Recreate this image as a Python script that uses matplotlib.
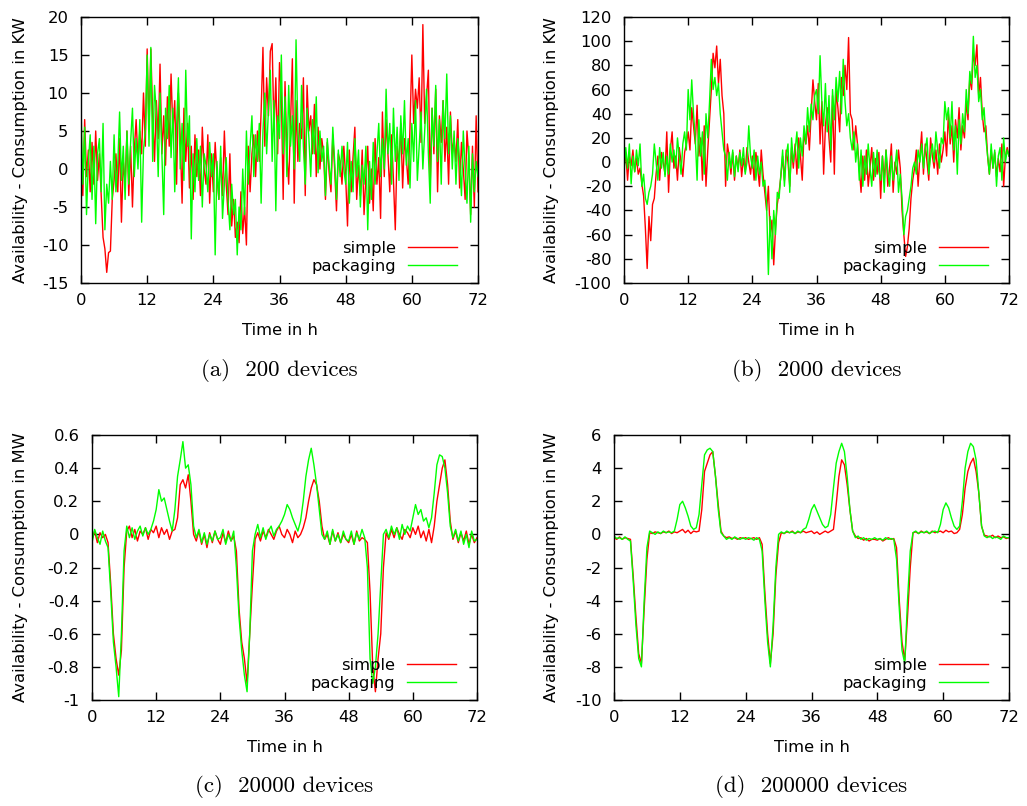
import numpy as np
import matplotlib
matplotlib.use("Agg")
import matplotlib.pyplot as plt

plt.rcParams["axes.unicode_minus"] = False

# values, one sample every 20 min (top) / 30 min (bottom)
a_simple = [
    1.5, -3.5, 6.5, -1.0, 2.5, -3.0, 3.5, -2.0, 5.0, -1.5, 2.0, -3.5,
    -9.0, -10.5, -13.6, -11.0, -10.8, -4.0, -1.5, 2.0, -3.0, 4.0, -7.0, 1.0,
    -2.0, 5.0, -3.5, 3.0, -5.0, 2.5, 6.5, 1.0, 5.0, 2.0, 10.0, 3.0,
    15.8, 5.0, 15.8, 7.0, 1.0, 9.0, 4.0, 13.8, 2.0, 7.0, 0.5, 9.5,
    3.0, 12.5, 5.0, 9.0, -2.0, 10.0, 4.0, -4.5, 8.0, 1.0, 6.0, -2.5,
    3.0, -4.0, 4.5, -1.0, 2.5, -3.5, 5.5, 0.0, -2.0, 4.5, -4.5, 2.0,
    -3.0, 3.5, -1.0, -4.0, 1.5, -3.5, 5.0, -2.0, -6.0, 2.0, -7.5, -4.0,
    -9.0, -7.0, -9.7, -3.0, -8.5, -5.0, -10.0, 3.0, -3.0, 2.0, 4.5, -1.0,
    5.0, 1.0, 7.5, 16.0, 3.0, 12.0, 7.0, 15.5, 16.5, 5.0, 12.0, 2.0,
    14.0, 10.0, -4.0, 11.5, 2.0, -2.0, 6.0, 14.5, -4.5, 9.0, 1.0, 6.0,
    4.0, 12.0, -3.5, 11.0, 5.0, 7.0, 2.0, 8.5, -1.0, 5.5, 0.0, 4.0,
    2.0, -4.0, 3.5, -0.5, -3.0, 4.5, 0.0, -5.5, 2.0, 1.0, -2.0, 3.0,
    -1.0, -7.5, 2.5, -3.0, 1.5, 5.5, -4.0, 0.5, -3.5, 2.5, -6.0, -1.0,
    3.0, -4.5, 0.0, -5.5, 4.0, -2.0, 1.5, -6.5, 7.5, -1.0, 6.5, 2.0,
    -3.0, 4.5, -1.5, -8.0, 3.0, 0.5, 6.0, -2.5, 4.0, 1.5, -2.0, 5.5,
    15.0, 6.0, 10.5, 8.0, 12.0, 3.5, 19.0, 6.0, 9.5, 13.0, -2.0, 8.0,
    2.0, 10.5, -3.0, 7.0, 3.5, 9.0, 1.0, 5.5, -2.0, 7.5, 2.0, 4.0,
    1.0, 6.5, -2.5, 3.5, 0.0, -4.0, 5.0, 1.5, -6.0, 3.0, -5.0, 7.0,
    -3.0,
]
a_pack = [
    8.3, -2.0, 5.5, -6.0, 1.0, 4.5, -4.0, 3.0, -7.2, 2.0, 4.0, -3.0,
    6.0, -8.0, -2.0, -4.5, 1.0, -4.0, 4.5, -3.0, 0.5, 7.5, -1.5, 3.0,
    -4.0, 5.0, -2.0, 3.5, 8.0, -1.0, 4.0, 0.0, 6.5, -7.0, 2.5, 5.0,
    15.0, 3.0, 16.0, 1.0, 11.0, 7.5, -1.0, 10.0, 2.0, -6.0, 8.0, 4.0,
    11.0, 1.5, 8.0, -3.0, 5.5, 12.0, 0.0, 6.0, -1.5, 13.0, 3.0, 7.0,
    -9.2, 2.0, -3.0, 4.0, -1.5, 3.0, -5.0, 2.0, 0.5, -3.0, 3.5, -1.0,
    2.0, -11.3, 1.0, -4.0, 3.0, -6.5, -2.0, 1.5, -4.0, -8.0, -2.0, -6.0,
    -4.0, -11.3, -5.0, -8.0, 0.0, -6.0, 5.0, -2.0, 3.0, 7.0, -1.0, 4.5,
    1.0, 6.0, -4.5, 5.0, 10.0, 2.0, 8.0, 13.0, 1.0, 9.0, -5.5, 7.0,
    4.0, 15.0, 2.0, 9.5, -1.0, 11.0, 3.0, 7.0, 0.0, 17.0, 5.0, 1.0,
    11.0, 3.0, -2.0, 8.0, 4.0, -1.0, 6.5, 2.0, 9.5, -0.5, 5.0, 1.0,
    3.0, -3.5, 4.0, 0.5, -2.0, 5.5, 1.0, -4.0, 2.5, -1.0, 3.0, 0.0,
    -2.0, 3.5, -4.5, 1.0, -3.0, 4.0, -1.0, 2.5, -5.0, 0.5, -2.0, 3.0,
    -8.0, 1.0, -4.0, 3.5, -2.0, 2.0, 6.0, -1.0, 4.0, 0.0, 10.5, 2.0,
    6.0, -2.0, 8.0, 1.0, 5.5, -1.5, 7.0, 2.0, 9.0, 0.5, 4.0, -2.5,
    6.0, 1.0, 9.0, -1.5, 3.0, 7.5, 0.0, 5.0, 10.5, 2.0, -4.5, 8.0,
    3.0, 11.0, 1.0, 6.5, -2.0, 9.0, 4.0, 12.5, 2.0, 7.0, 0.0, 5.0,
    -2.0, 4.0, 1.0, -3.5, 5.0, 0.0, -4.5, 3.0, -7.0, 2.0, -3.0, 1.0,
    -1.0,
]

b_simple = [
    -5, 8, -15, 5, -3, 10, -8, 3, -10, -5, -18, -28,
    -55, -88, -45, -65, -35, -30, -10, 5, -15, 8, 0, -10,
    25, -25, 10, 25, -5, 5, -15, 12, 0, -12, 8, 15,
    25, 10, 45, 30, 15, 47, 5, 20, -15, 30, -20, 10,
    35, 60, 90, 78, 96, 65, 85, 55, 40, -20, 15, 5,
    -10, 8, -15, 5, -5, 10, -12, 3, -8, 12, 0, -10,
    5, -15, 8, -5, -20, 10, -10, -25, -40, -20, -60, -48,
    -85, -55, -35, -25, -12, 5, -15, 10, 0, -20, 12, -5,
    15, -10, 20, 5, -15, 25, 15, 30, 10, 40, 68, 50,
    35, 65, 15, 50, -10, 30, 45, 20, 0, 55, -10, 60,
    45, 25, 70, 55, 80, 60, 103, 40, 35, 10, 30, 15,
    -5, -25, 5, -15, 10, -20, -5, 12, -15, 3, -10, 8,
    -30, 5, -15, 10, -20, -5, 15, -25, 0, -10, 10, -5,
    -40, -60, -78, -70, -55, -30, -15, -5, 10, -20, 5, 25,
    -10, 15, 0, -15, 20, 5, -5, 10, -10, 15, 0, 10,
    25, 5, 40, 15, 30, 0, 35, 20, 45, 10, 30, 20,
    50, 35, 70, 60, 90, 80, 97, 55, 70, 40, 25, 30,
    5, -10, 10, -5, 8, -12, 3, -8, 15, -20, 5, 12,
    5,
]
b_pack = [
    -10, 12, -5, 15, -18, 5, -8, 10, -3, 15, -20, -10,
    -30, -35, -25, -20, -10, 15, 0, -15, 12, -5, 8, -12,
    5, -10, 15, 0, 10, -5, 20, 5, -10, 15, 25, 10,
    60, 35, 68, 40, 20, -15, 35, 5, 25, -10, 40, 20,
    50, 85, 60, 70, 55, 65, 40, 25, 10, 5, -15, 8,
    -5, 10, -12, 5, -8, 8, -3, 12, -10, 0, 30, 5,
    -5, 10, -15, 5, -10, 0, -20, -15, -35, -93, -45, -80,
    -40, -60, -25, -30, -10, 10, -20, 5, 15, -25, 20, 0,
    10, 25, -5, 20, 5, 30, 15, 45, 25, 48, 35, 55,
    60, 40, 88, 50, 30, 65, 25, 55, 10, 60, 35, 70,
    50, 75, 40, 85, 50, 30, 40, 20, 10, 25, 0, 15,
    -15, 10, -20, 5, -10, 15, -5, -20, 8, -12, 10, -8,
    -15, 5, -25, 10, -8, -20, 5, -15, -5, 10, -25, -10,
    -30, -60, -45, -40, -30, -20, -5, 0, -10, 10, 0, 15,
    -5, 10, 20, -10, 5, 15, 0, 25, 10, -5, 20, 15,
    50, 35, 45, 20, 50, 10, 30, -10, 35, 15, 40, 25,
    60, 40, 75, 65, 104, 70, 80, 50, 60, 35, 45, 20,
    5, -10, 15, -5, 10, -20, 5, 12, -15, 20, 0, 10,
    5,
]

c_simple = [
    -0.03, 0.02, -0.05, 0.01, -0.02, 0.0, -0.05, -0.3, -0.6, -0.75, -0.85, -0.7,
    -0.2, 0.02, 0.05, -0.02, 0.03, -0.04, 0.02, 0.0, 0.04, -0.03, 0.03, 0.01,
    0.05, -0.02, 0.04, 0.0, 0.03, -0.03, 0.02, 0.03, 0.1, 0.3, 0.33, 0.28,
    0.36, 0.2, 0.0, -0.04, 0.02, -0.06, 0.0, -0.08, 0.01, -0.05, 0.02, -0.03,
    -0.06, 0.01, -0.05, 0.02, -0.04, -0.01, -0.1, -0.45, -0.65, -0.75, -0.9, -0.6,
    -0.3, -0.03, 0.01, -0.04, 0.02, -0.02, 0.03, 0.0, -0.03, 0.02, 0.05, 0.0,
    -0.02, 0.03, 0.0, -0.05, 0.02, -0.02, 0.0, 0.04, 0.1, 0.2, 0.28, 0.33,
    0.3, 0.2, 0.05, -0.03, 0.0, -0.06, 0.02, -0.04, 0.01, -0.05, 0.0, -0.03,
    -0.05, 0.0, -0.06, 0.02, -0.04, -0.02, -0.03, -0.05, -0.35, -0.8, -0.95, -0.75,
    -0.6, -0.2, 0.01, -0.03, 0.03, -0.02, 0.04, 0.0, -0.03, 0.03, 0.01, -0.02,
    0.04, 0.0, 0.05, -0.02, 0.02, -0.04, 0.03, -0.05, 0.05, 0.2, 0.3, 0.4,
    0.45, 0.3, 0.08, -0.03, 0.02, -0.05, 0.01, -0.04, 0.02, -0.06, 0.0, -0.05,
    -0.02,
]
c_pack = [
    -0.05, 0.03, -0.02, -0.06, 0.02, -0.04, -0.08, -0.35, -0.65, -0.8, -0.98, -0.6,
    -0.1, 0.05, -0.02, 0.04, -0.03, 0.02, 0.05, -0.01, 0.04, 0.0, 0.03, 0.08,
    0.15, 0.27, 0.2, 0.22, 0.15, 0.08, 0.02, 0.15, 0.35, 0.45, 0.56, 0.4,
    0.42, 0.3, 0.05, -0.02, 0.03, -0.05, 0.01, -0.06, 0.0, -0.04, 0.02, -0.03,
    -0.02, 0.03, -0.06, 0.0, -0.04, 0.02, -0.2, -0.5, -0.7, -0.85, -0.95, -0.6,
    -0.1, 0.0, 0.06, -0.02, 0.04, -0.03, 0.02, 0.05, -0.01, 0.03, 0.05, 0.08,
    0.12, 0.18, 0.15, 0.1, 0.06, 0.02, 0.08, 0.2, 0.35, 0.45, 0.52, 0.42,
    0.3, 0.15, 0.0, -0.03, 0.02, -0.06, 0.03, -0.04, 0.0, -0.05, 0.02, -0.03,
    -0.04, 0.02, -0.06, 0.01, -0.03, 0.03, -0.02, -0.2, -0.75, -0.9, -0.8, -0.6,
    -0.3, 0.0, 0.03, -0.02, 0.05, 0.0, 0.04, -0.03, 0.06, 0.0, 0.05, 0.02,
    0.1, 0.18, 0.12, 0.15, 0.08, 0.1, 0.04, 0.1, 0.25, 0.42, 0.48, 0.47,
    0.4, 0.25, 0.05, -0.02, 0.03, -0.04, 0.02, -0.06, 0.0, -0.08, 0.02, -0.04,
    -0.03,
]

d_simple = [
    -0.2, -0.3, -0.15, -0.3, -0.2, -0.25, -0.3, -2.5, -5.0, -7.2, -7.8, -4.5,
    -1.5, 0.1, 0.05, 0.15, 0.1, 0.05, 0.15, 0.1, 0.2, 0.05, 0.15, 0.1,
    0.2, 0.3, 0.1, 0.25, 0.05, 0.2, 0.15, 0.2, 1.5, 3.8, 4.3, 4.8,
    5.0, 3.5, 1.8, 0.2, -0.1, -0.2, -0.15, -0.25, -0.2, -0.3, -0.2, -0.25,
    -0.2, -0.3, -0.25, -0.2, -0.3, -0.2, -0.6, -3.5, -6.0, -7.8, -6.0, -2.5,
    -0.5, 0.1, 0.05, 0.15, 0.1, 0.2, 0.05, 0.15, 0.1, 0.2, 0.1, 0.15,
    0.2, 0.05, 0.15, 0.0, 0.1, 0.2, 0.1, 0.2, 0.3, 1.8, 3.5, 4.5,
    4.2, 3.0, 1.5, 0.2, -0.1, -0.25, -0.2, -0.35, -0.25, -0.4, -0.3, -0.3,
    -0.35, -0.25, -0.4, -0.3, -0.2, -0.3, -0.25, -0.8, -4.0, -6.5, -7.6, -5.0,
    -2.0, 0.1, 0.15, 0.05, 0.2, 0.1, 0.15, 0.05, 0.2, 0.1, 0.15, 0.2,
    0.1, 0.25, 0.15, 0.2, 0.05, 0.1, 0.3, 1.2, 2.8, 3.8, 4.3, 4.6,
    3.8, 2.5, 0.5, -0.05, -0.1, -0.15, -0.05, -0.2, -0.1, -0.2, -0.15, -0.25,
    -0.2,
]
d_pack = [
    -0.1, -0.25, -0.2, -0.3, -0.15, -0.3, -0.4, -2.8, -5.5, -7.5, -8.0, -4.0,
    -0.8, 0.2, 0.1, 0.0, 0.15, 0.05, 0.2, 0.1, 0.15, 0.1, 0.2, 0.9,
    1.8, 2.0, 1.6, 1.1, 0.5, 0.3, 0.4, 1.2, 3.0, 4.8, 5.1, 5.2,
    5.0, 3.5, 1.5, 0.1, -0.1, -0.3, -0.2, -0.3, -0.15, -0.25, -0.3, -0.2,
    -0.3, -0.2, -0.25, -0.35, -0.2, -0.3, -1.0, -4.0, -6.5, -8.0, -5.5, -2.0,
    0.0, 0.15, 0.05, 0.2, 0.1, 0.15, 0.05, 0.2, 0.1, 0.3, 0.4, 0.9,
    1.5, 1.8, 1.4, 1.0, 0.6, 0.4, 0.5, 1.2, 2.8, 4.3, 5.0, 5.5,
    5.0, 3.5, 1.5, 0.2, -0.2, -0.1, -0.3, -0.2, -0.35, -0.25, -0.3, -0.2,
    -0.3, -0.25, -0.35, -0.2, -0.3, -0.25, -0.3, -1.5, -4.5, -7.0, -7.8, -4.0,
    -1.0, 0.1, 0.2, 0.05, 0.15, 0.1, 0.2, 0.05, 0.15, 0.2, 0.1, 0.6,
    1.5, 1.9, 1.6, 1.0, 0.5, 0.3, 0.5, 2.0, 4.0, 5.0, 5.5, 5.3,
    4.5, 2.5, 0.5, -0.1, -0.2, -0.1, -0.25, -0.15, -0.2, -0.3, -0.1, -0.2,
    -0.2,
]

panels = [
    # data, unit, ylim, ystep, caption, axes box in pixels (left, top, right, bottom), ylabel x
    (a_simple, a_pack, "KW", (-15, 20), 5, "(a)  200 devices", (81, 17, 478, 283), 28),
    (b_simple, b_pack, "KW", (-100, 120), 20, "(b)  2000 devices", (624, 17, 1009, 283), 559),
    (c_simple, c_pack, "MW", (-1, 0.6), 0.2, "(c)  20000 devices", (92, 435, 477, 700), 28),
    (d_simple, d_pack, "MW", (-10, 6), 2, "(d)  200000 devices", (614, 435, 1009, 700), 559),
]

W, H = 1027, 806
fig = plt.figure(figsize=(W / 100, H / 100), dpi=100)
fs = 11.8

for simple, pack, unit, ylim, ystep, caption, box, ylx in panels:
    l, t, r, b = box
    ax = fig.add_axes([l / W, 1 - b / H, (r - l) / W, (b - t) / H])
    ts = np.linspace(0, 72, len(simple))
    tp = np.linspace(0, 72, len(pack))
    ax.plot(ts, simple, color="#ff0000", lw=1.0, label="simple")
    ax.plot(tp, pack, color="#00ff00", lw=1.0, label="packaging")
    ax.set_xlim(0, 72)
    ax.set_ylim(*ylim)
    ax.set_xticks(np.arange(0, 73, 12))
    yt = np.arange(ylim[0], ylim[1] + ystep / 2, ystep)
    ax.set_yticks(yt)
    ax.set_yticklabels(["%g" % (round(v, 1) + 0.0) for v in yt])
    ax.tick_params(direction="in", length=6, width=1, top=True, right=True,
                   labelsize=fs)
    ax.tick_params(axis="y", pad=9)
    ax.tick_params(axis="x", pad=7)
    for sp in ax.spines.values():
        sp.set_linewidth(1.0)
    ax.set_xlabel("Time in h", fontsize=fs, labelpad=11)
    ax.set_ylabel("Availability - Consumption in " + unit, fontsize=fs)
    ax.yaxis.set_label_coords((ylx - l) / (r - l), 0.5)
    leg = ax.legend(loc="lower right", frameon=False, fontsize=fs,
                    markerfirst=False, handlelength=3.0, handletextpad=0.7,
                    labelspacing=0.2, borderpad=0, borderaxespad=0,
                    bbox_to_anchor=(1 - 21 / (r - l), 9 / (b - t)))
    for col in leg._legend_handle_box.get_children():
        col.align = "right"
    cx = (l + r) / 2 / W
    fig.text(cx, 1 - (b + 87) / H, caption, ha="center", va="center",
             fontsize=16.5, family="cmr10")

fig.savefig("out.png", dpi=100)
